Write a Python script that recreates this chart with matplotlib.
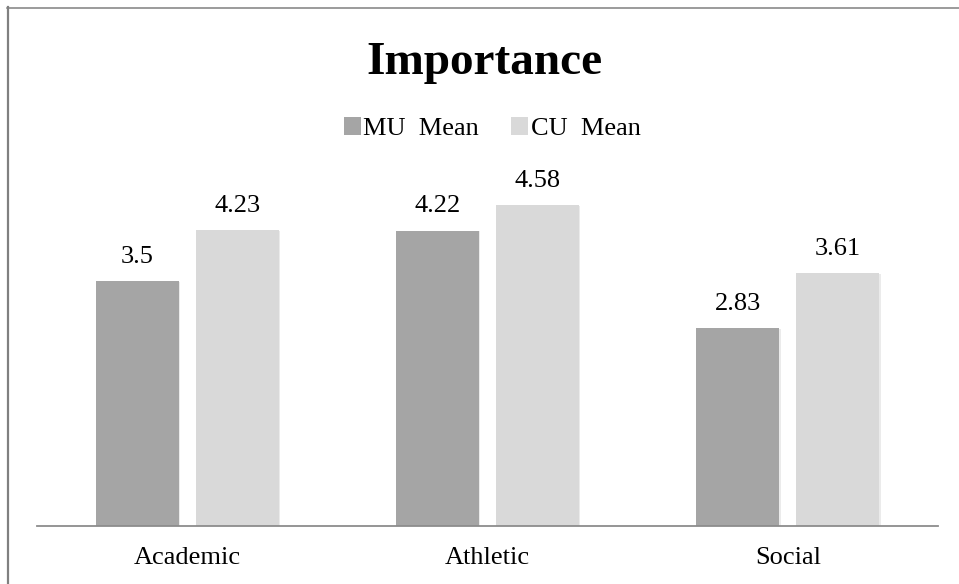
import matplotlib
matplotlib.use("Agg")
import matplotlib.pyplot as plt
import matplotlib.patheffects as pe
from matplotlib.lines import Line2D
from matplotlib.patches import Patch
import numpy as np

categories = ["Academic", "Athletic", "Social"]
mu_mean = [3.5, 4.22, 2.83]
cu_mean = [4.23, 4.58, 3.61]
series_names = ["MU  Mean", "CU  Mean"]
title = "Importance"

plt.rcParams["font.family"] = ["Liberation Serif", "DejaVu Serif"]

W, H = 959, 584
fig = plt.figure(figsize=(W / 100, H / 100), dpi=100)

# axes placement in pixels: x from 37 to 938, baseline at y=525.5 (from top)
px_per_unit = 69.9
ymax = 5.0
ax_left, ax_right = 37, 938
ax_bottom = H - 525.5
ax_height = ymax * px_per_unit
ax = fig.add_axes([ax_left / W, ax_bottom / H, (ax_right - ax_left) / W, ax_height / H])

x = np.arange(len(categories))
offset = 0.1665
width = 0.276
shadow = [pe.SimplePatchShadow(offset=(1.0, -0.6), shadow_rgbFace="#000000", alpha=0.08), pe.Normal()]

b1 = ax.bar(x - offset, mu_mean, width, color="#a5a5a5", zorder=2)
b2 = ax.bar(x + offset, cu_mean, width, color="#d9d9d9", zorder=2)
for bars in (b1, b2):
    for p in bars:
        p.set_path_effects(shadow)

for bars, vals in ((b1, mu_mean), (b2, cu_mean)):
    for p, v in zip(bars, vals):
        ax.annotate(f"{v:g}", (p.get_x() + p.get_width() / 2, v),
                    xytext=(0, 13), textcoords="offset points",
                    ha="center", va="baseline", fontsize=19, color="#000000")

ax.set_xlim(-0.5, 2.5)
ax.set_ylim(0, ymax)
ax.set_xticks(x)
ax.set_xticklabels(categories, fontsize=19)
ax.tick_params(axis="x", length=0, pad=15.5)
ax.set_yticks([])
for s in ("top", "right", "left"):
    ax.spines[s].set_visible(False)
ax.spines["bottom"].set_color("#8c8c8c")
ax.spines["bottom"].set_linewidth(1.3)
ax.spines["bottom"].set_zorder(3)

fig.text(484.5 / W, 1 - 74 / H, title, ha="center", va="baseline",
         fontsize=34, fontweight="bold")

handles = [Patch(facecolor="#a5a5a5", edgecolor="none"),
           Patch(facecolor="#d9d9d9", edgecolor="none")]
fig.legend(handles, series_names, loc="center", bbox_to_anchor=(492 / W, 1 - 128.5 / H),
           ncol=2, frameon=False, fontsize=19, handlelength=0.65, handleheight=0.65,
           handletextpad=0.1, columnspacing=1.2, borderpad=0)

# outer border (top and left edges)
fig.add_artist(Line2D([7 / W, 1.0], [1 - 7.5 / H, 1 - 7.5 / H], color="#808080", lw=1.1))
fig.add_artist(Line2D([8 / W, 8 / W], [0, 1 - 7 / H], color="#808080", lw=1.6))

fig.savefig("out.png", dpi=100)
